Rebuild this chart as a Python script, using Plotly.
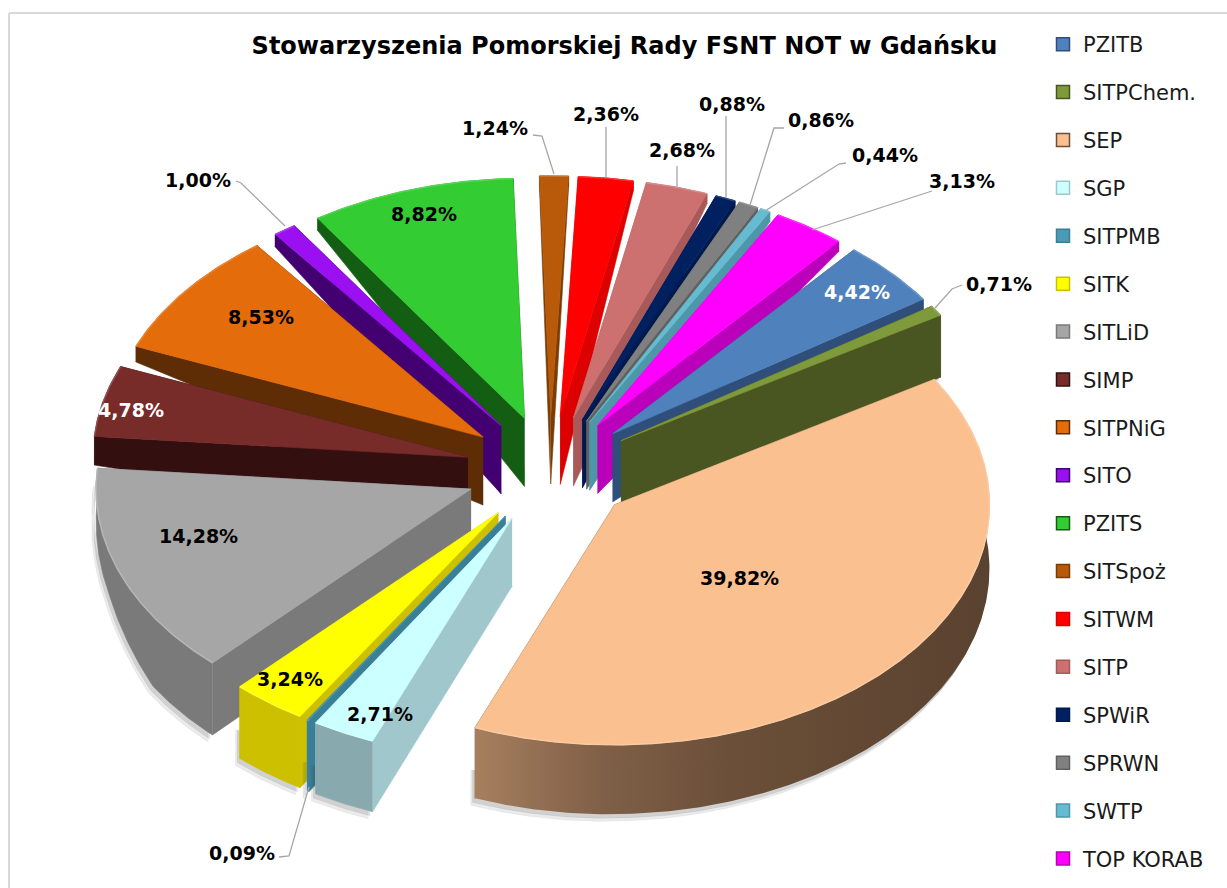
import numpy as np
import plotly.graph_objects as go

# ---- data -------------------------------------------------------------
names = ["PZITB", "SITPChem.", "SEP", "SGP", "SITPMB", "SITK", "SITLiD", "SIMP", "SITPNiG",
         "SITO", "PZITS", "SITSpoż", "SITWM", "SITP", "SPWiR", "SPRWN", "SWTP", "TOP KORAB"]
values = [4.42, 0.71, 39.82, 2.71, 0.09, 3.24, 14.28, 4.78, 8.53,
          1.00, 8.82, 1.24, 2.36, 2.68, 0.88, 0.86, 0.44, 3.13]
title = "Stowarzyszenia Pomorskiej Rady FSNT NOT w Gdańsku"

# ---- style ------------------------------------------------------------
top_colors = ["#4F81BD", "#7F9A3A", "#FAC090", "#CCFFFF", "#4A9AB5", "#FFFF00", "#A6A6A6", "#772C2A", "#E46C0A",
              "#9A10F0", "#33CC33", "#B85A0A", "#FF0000", "#CC7070", "#002060", "#808080", "#66BBD0", "#FF00FF"]
wall_colors = ["#2F4F7A", "#4A5622", "#6B4E38", "#A0C8CC", "#3A7F98", "#CCC000", "#7A7A7A", "#33100F", "#5F2D05",
               "#430070", "#145E14", "#7A3D05", "#DD0000", "#A85A5A", "#001A50", "#606060", "#4E97A8", "#BB00BB"]
arc_colors = list(wall_colors)
arc_colors[3] = "#88AAAE"
label_colors = {"PZITB": "white", "SIMP": "white"}

W, H = 1227, 888
CX, CY, RX, RY = 550.0, 470.0, 375.0, 240.0   # pie centre and ellipse radii on the page
START = 40.0      # degrees clockwise from 12 o'clock
PULL = 0.225      # explosion of every slice
APEX_DEPTH = 68.0
FAR_T = [0, 55.9, 56.5, 224, 238, 255, 276, 293, 327, 360]
FAR_D = [10, 10, 62, 72, 70, 42, 28, 15, 12, 10]

label_xy = [(857, 292), (999, 284), (739, 578), (380, 714), (242, 853), (290, 679), (198, 536), (131, 410), (261, 317),
            (198, 180), (424, 214), (495, 128), (606, 114), (682, 150), (732, 104), (821, 120), (885, 155), (962, 181)]
leaders = {
    "SITPChem.": [(935, 308), (952, 289), (962, 285)],
    "SITPMB": [(309, 787), (289, 856), (279, 857)],
    "SITO": [(285, 226), (241, 183), (236, 181)],
    "SITSpoż": [(554, 174), (542, 136), (533, 135)],
    "SITWM": [(606, 178), (606, 127)],
    "SITP": [(677, 188), (677, 166)],
    "SPWiR": [(726, 198), (726, 116)],
    "SPRWN": [(750, 205), (774, 128), (784, 128)],
    "SWTP": [(765, 211), (839, 164), (846, 163)],
    "TOP KORAB": [(812, 230), (927, 192), (932, 191)],
}


def lighten(hexc, a):
    rgb = [int(hexc[i:i + 2], 16) for i in (1, 3, 5)]
    return "rgb(%d,%d,%d)" % tuple(int(c + (255 - c) * a) for c in rgb)


def far_depth(t):
    return float(np.interp(t % 360.0001, FAR_T, FAR_D))


def polar(ax, ay, t):
    r = np.radians(t)
    return ax + RX * np.sin(r), ay - RY * np.cos(r)


# ---- slice geometry derived from the values ----------------------------
total = sum(values)
slices = []
acc = START
for i, v in enumerate(values):
    t0, t1 = acc, acc + v / total * 360.0
    acc = t1
    mid = (t0 + t1) / 2
    ax, ay = polar(CX, CY, mid)
    ax, ay = CX + (ax - CX) * PULL, CY + (ay - CY) * PULL
    slices.append(dict(i=i, t0=t0, t1=t1, mid=mid, ax=ax, ay=ay))

fig = go.Figure()


def poly(xs, ys, color, group, **kw):
    fig.add_trace(go.Scatter(x=list(xs), y=list(ys), mode="lines", fill="toself", fillcolor=color,
                             line=dict(color=color, width=0.6), hoverinfo="skip", showlegend=False,
                             legendgroup=group, **kw))


for s in sorted(slices, key=lambda s: -abs(((s["mid"] % 360) - 180))):
    i, t0, t1, ax, ay = s["i"], s["t0"], s["t1"], s["ax"], s["ay"]
    nm = names[i]
    ts = np.linspace(t0, t1, max(4, int((t1 - t0) * 2)))
    ox, oy = polar(ax, ay, ts)
    ds = np.array([far_depth(t) for t in ts])
    # soft shadow under the outer wall
    for off, alpha in ((7, .10), (4, .14)):
        if ds.max() > 30:
            poly(np.r_[ox - off * .6, (ox - off * .6)[::-1]], np.r_[oy + ds * .6, (oy + ds + off)[::-1]],
                 "rgba(60,60,60,%.2f)" % alpha, nm)
    # radial side walls
    for t, j in ((t0, 0), (t1, -1)):
        poly([ax, ox[j], ox[j], ax], [ay, oy[j], oy[j] + ds[j], ay + APEX_DEPTH], wall_colors[i], nm)
    # outer wall
    wx, wy = np.r_[ox, ox[::-1]], np.r_[oy, (oy + ds)[::-1]]
    if nm == "SEP":
        fig.add_trace(go.Scatter(x=list(wx), y=list(wy), mode="lines", fill="toself", line=dict(width=0, color="#6B4E38"),
                                 fillgradient=dict(type="horizontal",
                                                   colorscale=[[0, "#A67F5E"], [.25, "#7F5F47"], [.5, "#6B4F38"], [1, "#5A4230"]]),
                                 hoverinfo="skip", showlegend=False, legendgroup=nm))
    else:
        poly(wx, wy, arc_colors[i], nm)
    # top surface
    poly(np.r_[ax, ox, ax], np.r_[ay, oy, ay], top_colors[i], nm)
    # light rim along the outer edge
    fig.add_trace(go.Scatter(x=list(ox), y=list(oy), mode="lines", line=dict(color=lighten(top_colors[i], .18), width=1.5),
                             hoverinfo="skip", showlegend=False, legendgroup=nm))

# leader lines
for nm, pts in leaders.items():
    fig.add_trace(go.Scatter(x=[p[0] for p in pts], y=[p[1] for p in pts], mode="lines",
                             line=dict(color="#A6A6A6", width=1.3), hoverinfo="skip", showlegend=False, legendgroup=nm))

# legend entries
for i, nm in enumerate(names):
    fig.add_trace(go.Scatter(x=[None], y=[None], mode="markers", name=nm, legendgroup=nm, showlegend=True,
                             marker=dict(symbol="square", size=13, color=top_colors[i],
                                         line=dict(color=wall_colors[i], width=1.5))))

# data labels
for i, (v, nm) in enumerate(zip(values, names)):
    fig.add_annotation(x=label_xy[i][0], y=label_xy[i][1], text="<b>%s%%</b>" % f"{v:.2f}".replace(".", ","),
                       showarrow=False, xanchor="center", yanchor="middle",
                       font=dict(family="DejaVu Sans", size=19, color=label_colors.get(nm, "black")))

fig.update_layout(
    width=W, height=H, margin=dict(l=0, r=0, t=0, b=0),
    paper_bgcolor="white", plot_bgcolor="white", font=dict(family="DejaVu Sans", color="black"),
    title=dict(text="<b>%s</b>" % title, x=624.5 / W, y=1 - 46 / H, xanchor="center", yanchor="middle",
               font=dict(family="DejaVu Sans", size=24, color="black")),
    xaxis=dict(range=[0, W], visible=False, fixedrange=True),
    yaxis=dict(range=[H, 0], visible=False, fixedrange=True),
    legend=dict(x=1043 / W, y=1 - 24 / H, xanchor="left", yanchor="top", tracegroupgap=17.6, bgcolor="rgba(0,0,0,0)",
                maxheight=H, font=dict(family="DejaVu Sans", size=21, color="#1a1a1a"),
                itemclick=False, itemdoubleclick=False),
    shapes=[dict(type="line", xref="x", yref="y", x0=9, y0=13, x1=W, y1=13, line=dict(color="#D9D9D9", width=2), layer="below"),
            dict(type="line", xref="x", yref="y", x0=9, y0=13, x1=9, y1=H, line=dict(color="#D9D9D9", width=2), layer="below")],
)

fig.write_html("out.html", config=dict(displayModeBar=False), post_script="document.body.style.margin='0';")
